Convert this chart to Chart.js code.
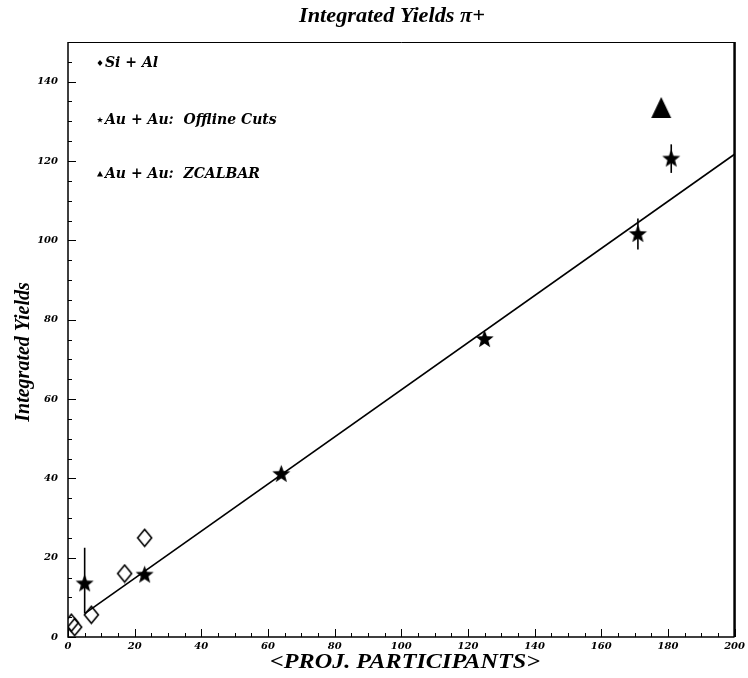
<!DOCTYPE html>
<html>
<head>
<meta charset="utf-8">
<script src="https://cdn.jsdelivr.net/npm/chart.js@4"></script>
<style>
  body { margin: 0; background: #fff; }
  #wrap { width: 748px; height: 678px; }
</style>
</head>
<body>
<div id="wrap"><canvas id="yieldChart" width="748" height="678"></canvas></div>
<script>
// values
const siAlX = [1.0, 2.0, 7, 17, 23];
const siAlY = [3.6, 2.5, 5.6, 16, 25];

const offlineX = [5, 23, 64, 125, 171, 181];
const offlineY = [13.4, 15.6, 41, 75, 101.5, 120.5];
const offlineErrLow = [6, null, null, null, 97.7, 117];
const offlineErrHigh = [22.5, null, null, null, 105.5, 124.2];

const zcalX = [178];
const zcalY = [133.5];

const fitX = [5, 200];
const fitY = [5.9, 121.7];

const xTicks = [0, 20, 40, 60, 80, 100, 120, 140, 160, 180, 200];
const yTicks = [0, 20, 40, 60, 80, 100, 120, 140];

const legendLabels = ["Si + Al", "Au + Au:  Offline Cuts", "Au + Au:  ZCALBAR"];
const chartTitle = "Integrated Yields \u03c0+";
const xTitle = "<PROJ. PARTICIPANTS>";
const yTitle = "Integrated Yields";

const serif = "'Liberation Serif', 'DejaVu Serif', serif";
const wideSerif = "'DejaVu Serif', 'Liberation Serif', serif";

function makeStar(outer, inner) {
  const c = document.createElement("canvas");
  const s = Math.ceil(outer * 2) + 2;
  c.width = c.height = s;
  const g = c.getContext("2d");
  g.beginPath();
  for (let i = 0; i < 10; i++) {
    const r = i % 2 ? inner : outer;
    const a = -Math.PI / 2 + i * Math.PI / 5;
    g.lineTo(s / 2 + r * Math.cos(a), s / 2 + r * Math.sin(a));
  }
  g.closePath();
  g.fillStyle = "#000";
  g.fill();
  return c;
}

function makeDiamond(w, h, lw) {
  const c = document.createElement("canvas");
  c.width = w + lw * 2;
  c.height = h + lw * 2;
  const g = c.getContext("2d");
  const cx = c.width / 2, cy = c.height / 2;
  g.beginPath();
  g.moveTo(cx, cy - h / 2);
  g.lineTo(cx + w / 2, cy);
  g.lineTo(cx, cy + h / 2);
  g.lineTo(cx - w / 2, cy);
  g.closePath();
  g.lineWidth = lw;
  g.strokeStyle = "#000";
  g.stroke();
  return c;
}

function makeTriangle(w, h) {
  const c = document.createElement("canvas");
  c.width = w + 2;
  c.height = h + 2;
  const g = c.getContext("2d");
  g.beginPath();
  g.moveTo(c.width / 2, 1);
  g.lineTo(c.width - 1, h + 1);
  g.lineTo(1, h + 1);
  g.closePath();
  g.fillStyle = "#000";
  g.fill();
  return c;
}

const starImg = makeStar(9.5, 4);
const diamondImg = makeDiamond(14, 17, 1.6);
const triangleImg = makeTriangle(20, 21);

const toPoints = (xs, ys) => xs.map((x, i) => ({ x: x, y: ys[i] }));

// draw text squeezed/stretched to a target width
function fitText(ctx, text, cx, cy, width) {
  const w = ctx.measureText(text).width;
  ctx.save();
  ctx.translate(cx, cy);
  ctx.scale(width / w, 1);
  ctx.fillText(text, 0, 0);
  ctx.restore();
}

// frame, inward ticks, error bars
const framePlugin = {
  id: "frame",
  beforeDatasetsDraw(chart) {
    const { ctx, chartArea: a, scales } = chart;
    const x = scales.x, y = scales.y;
    ctx.save();
    ctx.strokeStyle = "#000";
    ctx.lineWidth = 1;
    for (let v = 0; v <= 200; v += 5) {
      const px = Math.round(x.getPixelForValue(v)) + 0.5;
      const len = v % 20 === 0 ? 8 : 4;
      ctx.beginPath();
      ctx.moveTo(px, a.bottom);
      ctx.lineTo(px, a.bottom - len);
      ctx.stroke();
    }
    for (let v = 0; v <= 150; v += 5) {
      const py = Math.round(y.getPixelForValue(v)) + 0.5;
      const len = v % 20 === 0 ? 8 : 4;
      ctx.beginPath();
      ctx.moveTo(a.left, py);
      ctx.lineTo(a.left + len, py);
      ctx.stroke();
    }
    // error bars
    ctx.lineWidth = 1.6;
    offlineX.forEach((v, i) => {
      if (offlineErrLow[i] == null) return;
      const px = x.getPixelForValue(v);
      ctx.beginPath();
      ctx.moveTo(px, y.getPixelForValue(offlineErrLow[i]));
      ctx.lineTo(px, y.getPixelForValue(offlineErrHigh[i]));
      ctx.stroke();
    });
    // frame
    ctx.lineWidth = 1.5;
    ctx.beginPath();
    ctx.moveTo(a.left, a.top);
    ctx.lineTo(a.left, a.bottom);
    ctx.lineTo(a.right, a.bottom);
    ctx.stroke();
    ctx.lineWidth = 1;
    ctx.beginPath();
    ctx.moveTo(a.left, a.top + 0.5);
    ctx.lineTo(a.right, a.top + 0.5);
    ctx.stroke();
    ctx.lineWidth = 2.5;
    ctx.beginPath();
    ctx.moveTo(a.right, a.top);
    ctx.lineTo(a.right, a.bottom);
    ctx.stroke();
    ctx.restore();
  },
  afterDraw(chart) {
    const { ctx } = chart;
    ctx.save();
    ctx.fillStyle = "#000";
    ctx.textBaseline = "middle";
    ctx.textAlign = "center";

    ctx.font = "bold italic 22px " + serif;
    fitText(ctx, chartTitle, 392, 16, 186);

    ctx.font = "bold italic 22px " + serif;
    fitText(ctx, xTitle, 405, 662, 270);

    ctx.save();
    ctx.translate(24, 352);
    ctx.rotate(-Math.PI / 2);
    ctx.font = "bold italic 20px " + serif;
    ctx.fillText(yTitle, 0, 0);
    ctx.restore();

    // legend
    const ly = [63, 120, 174];
    ctx.font = "bold italic 14px " + wideSerif;
    ctx.textAlign = "left";
    legendLabels.forEach((t, i) => {
      const mx = 100, my = ly[i];
      ctx.beginPath();
      if (i === 0) {
        ctx.moveTo(mx, my - 3);
        ctx.lineTo(mx + 2.5, my);
        ctx.lineTo(mx, my + 3);
        ctx.lineTo(mx - 2.5, my);
      } else if (i === 1) {
        for (let k = 0; k < 10; k++) {
          const r = k % 2 ? 1.3 : 3.2;
          const ang = -Math.PI / 2 + k * Math.PI / 5;
          ctx.lineTo(mx + r * Math.cos(ang), my + r * Math.sin(ang));
        }
      } else {
        ctx.moveTo(mx, my - 3);
        ctx.lineTo(mx + 3, my + 2.5);
        ctx.lineTo(mx - 3, my + 2.5);
      }
      ctx.closePath();
      ctx.fill();
      ctx.fillText(t, mx + 5, my);
    });
    ctx.restore();
  }
};

const tickFont = { family: wideSerif, size: 10, weight: "bold", style: "italic" };

new Chart(document.getElementById("yieldChart"), {
  type: "scatter",
  data: {
    datasets: [
      {
        label: legendLabels[2],
        data: toPoints(zcalX, zcalY),
        pointStyle: triangleImg
      },
      {
        label: legendLabels[1],
        data: toPoints(offlineX, offlineY),
        pointStyle: starImg
      },
      {
        label: legendLabels[0],
        data: toPoints(siAlX, siAlY),
        pointStyle: diamondImg
      },
      {
        label: "fit",
        type: "line",
        data: toPoints(fitX, fitY),
        borderColor: "#000",
        borderWidth: 1.6,
        pointRadius: 0,
        fill: false,
        tension: 0
      }
    ]
  },
  options: {
    responsive: false,
    animation: false,
    events: [],
    layout: { padding: { top: 42, right: 11, left: 0, bottom: 0 } },
    plugins: {
      legend: { display: false },
      title: { display: false },
      tooltip: { enabled: false }
    },
    scales: {
      x: {
        type: "linear",
        min: 0,
        max: 200,
        afterBuildTicks: s => { s.ticks = xTicks.map(v => ({ value: v })); },
        ticks: { font: tickFont, color: "#000", maxRotation: 0, padding: 3 },
        grid: { display: false, drawTicks: false },
        border: { display: false },
        afterFit: s => { s.height = 41; }
      },
      y: {
        type: "linear",
        min: 0,
        max: 150,
        afterBuildTicks: s => { s.ticks = yTicks.map(v => ({ value: v })); },
        ticks: { font: tickFont, color: "#000", padding: 10 },
        grid: { display: false, drawTicks: false },
        border: { display: false },
        afterFit: s => { s.width = 68; }
      }
    }
  },
  plugins: [framePlugin]
});
</script>
</body>
</html>
